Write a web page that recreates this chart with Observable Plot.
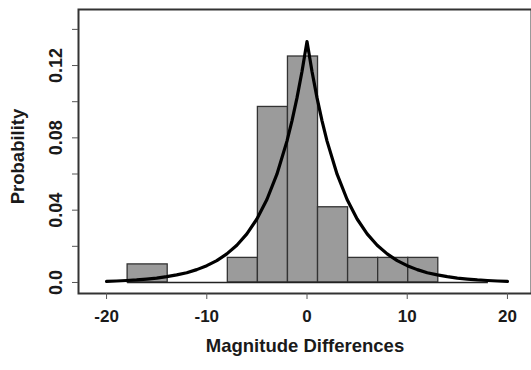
<!DOCTYPE html>
<html>
<head>
<meta charset="utf-8">
<script src="https://cdn.jsdelivr.net/npm/d3@7"></script>
<script src="https://cdn.jsdelivr.net/npm/@observablehq/plot@0.6"></script>
<style>
  html, body { margin: 0; padding: 0; background: #fff; }
  #chart { width: 531px; height: 370px; overflow: hidden; }
</style>
</head>
<body>
<div id="chart"></div>
<script>
// Histogram bins (left edge, right edge) and densities
const binLeft  = [-17.9, -7.9, -4.9, -1.9, 1.1, 4.1, 7.1, 10.1];
const binRight = [-13.9, -4.9, -1.9, 1.1, 4.1, 7.1, 10.1, 13.1];
const binDensity = [0.0100, 0.0136, 0.0971, 0.1250, 0.0416, 0.0136, 0.0136, 0.0136];
// extent of the histogram's zero line
const histRange = [-17.9, 18.1];

// Fitted density curve
const curveX = [-20, -19, -18, -17, -16, -15, -14, -13, -12, -11, -10, -9, -8, -7, -6, -5, -4, -3, -2, -1.5, -1, -0.5, 0,
                 0.5, 1, 1.5, 2, 3, 4, 5, 6, 7, 8, 9, 10, 11, 12, 13, 14, 15, 16, 17, 18, 19, 20];
const curveY = [0.0006, 0.0008, 0.0011, 0.0014, 0.0019, 0.0024, 0.0032, 0.0042, 0.0054, 0.0071, 0.0093, 0.0121, 0.0158, 0.0206, 0.0269, 0.0351, 0.0459, 0.0599, 0.0782, 0.0894, 0.1021, 0.1167, 0.1333,
                0.1167, 0.1021, 0.0894, 0.0782, 0.0599, 0.0459, 0.0351, 0.0269, 0.0206, 0.0158, 0.0121, 0.0093, 0.0071, 0.0054, 0.0042, 0.0032, 0.0024, 0.0019, 0.0014, 0.0011, 0.0008, 0.0006];

// Axis ticks
const xTicks = [-20, -10, 0, 10, 20];
const yTicks = [0, 0.02, 0.04, 0.06, 0.08, 0.10, 0.12, 0.14];
const yTickLabels = {"0": "0.0", "0.04": "0.04", "0.08": "0.08", "0.12": "0.12"};

const xTitle = "Magnitude Differences";
const yTitle = "Probability";

const bins = binLeft.map((l, i) => ({x1: l, x2: binRight[i], y: binDensity[i]}));
const curve = curveX.map((x, i) => ({x, y: curveY[i]}));

const plot = Plot.plot({
  width: 531,
  height: 370,
  marginLeft: 78,
  marginRight: 0,
  marginTop: 9,
  marginBottom: 77,
  style: {
    fontFamily: "'Liberation Sans', Arial, Helvetica, sans-serif",
    fontSize: "17px",
    fontWeight: "bold",
    color: "#1a1a1a",
    background: "#fff"
  },
  x: {domain: [-22.8, 22.4]},
  y: {domain: [-0.0061, 0.151]},
  marks: [
    Plot.rectY(bins, {x1: "x1", x2: "x2", y: "y", fill: "#9b9b9b", stroke: "#333", strokeWidth: 1.3}),
    Plot.ruleY([0], {x1: histRange[0], x2: histRange[1], stroke: "#222", strokeWidth: 1.5}),
    Plot.line(curve, {x: "x", y: "y", stroke: "#000", strokeWidth: 3.2, curve: "linear"}),
    Plot.frame({stroke: "#333", strokeWidth: 2}),
    Plot.axisX({ticks: xTicks, tickSize: 6, tickPadding: 10, tickFormat: d => String(d), stroke: "#555", label: null}),
    Plot.axisY({ticks: yTicks, tickSize: 6, tickPadding: 11, tickRotate: -90, fontSize: 18,
      tickFormat: d => yTickLabels[String(+d.toFixed(2))] ?? "", stroke: "#555", label: null}),
    Plot.text([xTitle], {frameAnchor: "bottom", dy: 58, fontSize: 18.5, fontWeight: "bold", fill: "#1a1a1a", lineAnchor: "bottom"}),
    Plot.text([yTitle], {frameAnchor: "left", dx: -60, dy: 5, rotate: -90, textAnchor: "middle", lineAnchor: "middle", fontSize: 18.5, fontWeight: "bold", fill: "#1a1a1a"})
  ]
});
document.getElementById("chart").appendChild(plot);
</script>
</body>
</html>
